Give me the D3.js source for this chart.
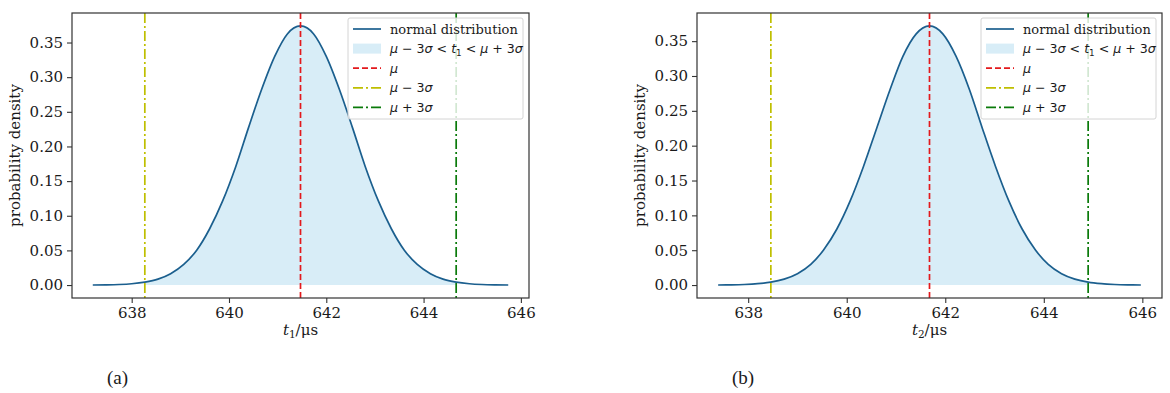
<!DOCTYPE html>
<html>
<head>
<meta charset="utf-8">
<script src="https://cdn.jsdelivr.net/npm/d3@7"></script>
<style>
  body { margin: 0; background: #fff; }
  svg text { font-family: "DejaVu Serif", serif; fill: #1a1a1a; }
</style>
</head>
<body>
<svg id="chart" width="1170" height="393"></svg>
<script>
// tick values
const xTicks = [638, 640, 642, 644, 646];
const yTicks = [0, 0.05, 0.10, 0.15, 0.20, 0.25, 0.30, 0.35];

// panel (a): t1 in µs and density
const t1Values = [637.20, 637.47, 637.74, 638.00, 638.27, 638.54, 638.80, 639.07, 639.34, 639.60, 639.87,
  640.14, 640.40, 640.67, 640.94, 641.20, 641.47, 641.74, 642.00, 642.27, 642.54, 642.80, 643.07,
  643.34, 643.60, 643.87, 644.14, 644.40, 644.67, 644.94, 645.20, 645.47, 645.74];
const density1 = [0.0001, 0.0003, 0.0008, 0.0019, 0.0042, 0.0085, 0.0164, 0.0298, 0.0506, 0.0809, 0.1214,
  0.1712, 0.2268, 0.2822, 0.3300, 0.3624, 0.3739, 0.3624, 0.3300, 0.2822, 0.2268, 0.1712, 0.1214,
  0.0809, 0.0506, 0.0298, 0.0164, 0.0085, 0.0042, 0.0019, 0.0008, 0.0003, 0.0001];
const marks1 = [638.27, 641.47, 644.67]; // mu-3s, mu, mu+3s

// panel (b): t2
const t2Values = [637.39, 637.66, 637.92, 638.19, 638.46, 638.73, 639.00, 639.27, 639.53, 639.80, 640.07,
  640.34, 640.61, 640.88, 641.14, 641.41, 641.68, 641.95, 642.22, 642.49, 642.75, 643.02, 643.29,
  643.56, 643.83, 644.09, 644.36, 644.63, 644.90, 645.17, 645.44, 645.70, 645.97];
const density2 = [0.0001, 0.0003, 0.0008, 0.0019, 0.0041, 0.0085, 0.0163, 0.0296, 0.0503, 0.0804, 0.1207,
  0.1702, 0.2255, 0.2806, 0.3281, 0.3604, 0.3718, 0.3604, 0.3281, 0.2806, 0.2255, 0.1702, 0.1207,
  0.0804, 0.0503, 0.0296, 0.0163, 0.0085, 0.0041, 0.0019, 0.0008, 0.0003, 0.0001];
const marks2 = [638.46, 641.68, 644.90];

const curveColor = "#1b5f8e";
const fillColor = "#d8edf7";
const muColor = "#e3191c";
const lowColor = "#bfbf00";
const highColor = "#0a7a0a";

const svg = d3.select("#chart");

function mathText(sel, parts, size) {
  // parts: [text, italic?, sub?, back up?]
  sel.style("font-family", "'DejaVu Sans', sans-serif").style("font-size", size + "px");
  parts.forEach(p => {
    const ts = sel.append("tspan").text(p[0]);
    if (p[1]) ts.style("font-style", "italic");
    if (p[2]) ts.attr("font-size", size * 0.7).attr("dy", 3);
    if (p[3]) ts.attr("dy", -3);
  });
}

function drawPanel(box, xs, ys, marks, sub, tag) {
  const g = svg.append("g");
  const xExt = d3.extent(xs), pad = (xExt[1] - xExt[0]) * 0.05;
  const yMax = d3.max(ys);
  const x = d3.scaleLinear().domain([xExt[0] - pad, xExt[1] + pad]).range([box.left, box.right]);
  const y = d3.scaleLinear().domain([-yMax * 0.05, yMax * 1.05]).range([box.bottom, box.top]);

  const pts = xs.map((v, i) => [v, ys[i]]);

  // shaded region between mu-3s and mu+3s
  const inside = pts.filter(d => d[0] >= marks[0] - 1e-6 && d[0] <= marks[2] + 1e-6);
  g.append("path")
    .attr("d", d3.area().x(d => x(d[0])).y0(y(0)).y1(d => y(d[1])).curve(d3.curveMonotoneX)(inside))
    .attr("fill", fillColor);

  g.append("path")
    .attr("d", d3.line().x(d => x(d[0])).y(d => y(d[1])).curve(d3.curveMonotoneX)(pts))
    .attr("fill", "none")
    .attr("stroke", curveColor)
    .attr("stroke-width", 1.7);

  // vertical lines
  const vlines = [
    { v: marks[1], c: muColor, dash: "6,3" },
    { v: marks[0], c: lowColor, dash: "10,3,2,3" },
    { v: marks[2], c: highColor, dash: "10,3,2,3" }
  ];
  vlines.forEach(l => {
    g.append("line")
      .attr("x1", x(l.v)).attr("x2", x(l.v))
      .attr("y1", box.top).attr("y2", box.bottom)
      .attr("stroke", l.c).attr("stroke-width", 1.7)
      .attr("stroke-dasharray", l.dash);
  });

  // axes
  const xAxis = g.append("g").attr("transform", `translate(0,${box.bottom})`)
    .call(d3.axisBottom(x).tickValues(xTicks).tickFormat(d3.format("d")).tickSize(5).tickPadding(4));
  const yAxis = g.append("g").attr("transform", `translate(${box.left},0)`)
    .call(d3.axisLeft(y).tickValues(yTicks).tickFormat(d3.format(".2f")).tickSize(5).tickPadding(4));
  [xAxis, yAxis].forEach(a => {
    a.select(".domain").remove();
    a.selectAll("line").attr("stroke", "#333").attr("stroke-width", 1.1);
    a.selectAll("text").style("font-size", "15px").attr("fill", "#1a1a1a")
      .style("font-family", "'DejaVu Serif', serif");
  });

  g.append("rect")
    .attr("x", box.left).attr("y", box.top)
    .attr("width", box.right - box.left).attr("height", box.bottom - box.top)
    .attr("fill", "none").attr("stroke", "#333").attr("stroke-width", 1.2);

  // axis labels
  const xl = g.append("text")
    .attr("x", (box.left + box.right) / 2).attr("y", box.bottom + 37)
    .attr("text-anchor", "middle").style("font-size", "15px");
  xl.append("tspan").text("t").style("font-style", "italic");
  xl.append("tspan").text(sub).attr("font-size", 10.5).attr("dy", 3);
  xl.append("tspan").text("/μs").attr("dy", -3);

  g.append("text")
    .attr("transform", `translate(${box.left - 52},${(box.top + box.bottom) / 2}) rotate(-90)`)
    .attr("text-anchor", "middle").style("font-size", "15px")
    .text("probability density");

  // legend
  const lw = 175, lh = 101;
  const lx = box.right - 6 - lw, ly = box.top + 5;
  const lg = g.append("g").attr("transform", `translate(${lx},${ly})`);
  lg.append("rect").attr("width", lw).attr("height", lh).attr("rx", 2)
    .attr("fill", "#fff").attr("fill-opacity", 0.82).attr("stroke", "#d4d4d4");
  const items = [
    { type: "line", c: curveColor, dash: null, label: null },
    { type: "fill", c: fillColor, label: [["μ", true], [" − 3"], ["σ", true], [" < "], ["t", true], ["1", false, true], [" < ", false, false, true], ["μ", true], [" + 3"], ["σ", true]] },
    { type: "line", c: muColor, dash: "6,3", label: [["μ", true]] },
    { type: "line", c: lowColor, dash: "10,3,2,3", label: [["μ", true], [" − 3"], ["σ", true]] },
    { type: "line", c: highColor, dash: "10,3,2,3", label: [["μ", true], [" + 3"], ["σ", true]] }
  ];
  items.forEach((it, i) => {
    const cy = 11 + i * 19.6;
    if (it.type === "fill") {
      lg.append("rect").attr("x", 5).attr("y", cy - 5).attr("width", 28).attr("height", 10).attr("fill", it.c);
    } else {
      lg.append("line").attr("x1", 5).attr("x2", 33).attr("y1", cy).attr("y2", cy)
        .attr("stroke", it.c).attr("stroke-width", 1.7)
        .attr("stroke-dasharray", it.dash);
    }
    const t = lg.append("text").attr("x", 42).attr("y", cy + 4.5);
    if (it.label) mathText(t, it.label, 12.6);
    else t.style("font-size", "13px").text("normal distribution");
  });

  svg.append("text")
    .attr("x", box.left + 35).attr("y", 384)
    .style("font-family", "'Liberation Serif', 'Times New Roman', serif")
    .style("font-size", "19px")
    .text(tag);
}

drawPanel({ left: 72, right: 529, top: 13, bottom: 298 }, t1Values, density1, marks1, "1", "(a)");
drawPanel({ left: 697, right: 1162, top: 13, bottom: 298 }, t2Values, density2, marks2, "2", "(b)");
</script>
</body>
</html>
